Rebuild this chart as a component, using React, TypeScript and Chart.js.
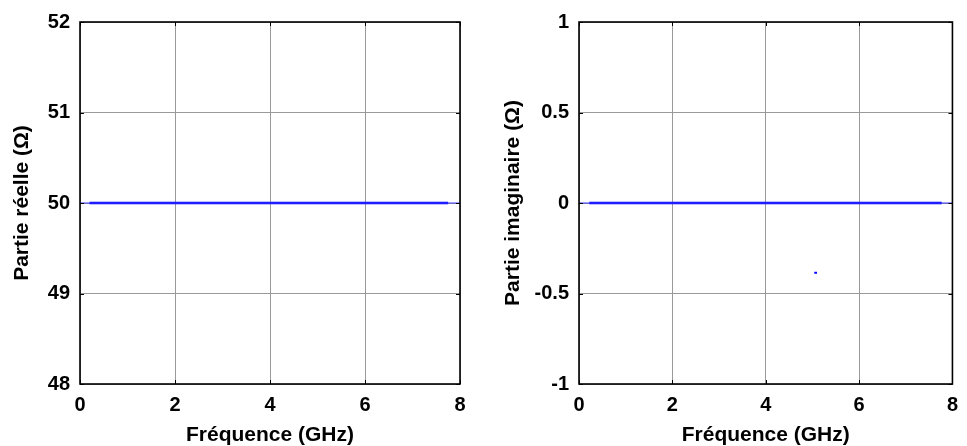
import React, { useEffect, useRef } from 'react';
import { Chart, registerables } from 'chart.js';

Chart.register(...registerables);

// ---- data ----
const xTickValues = [0, 2, 4, 6, 8];
const realTickValues = [48, 49, 50, 51, 52];
const imagTickValues = [-1, -0.5, 0, 0.5, 1];

// thin trace spanning the whole band
const realThinFreq = [0, 8];
const realThinValues = [50, 50];
// dense (thick) part of the trace
const realThickFreq = [0.2, 7.75];
const realThickValues = [50, 50];

const imagThinFreq = [0, 8];
const imagThinValues = [0, 0];
const imagThickFreq = [0.22, 7.77];
const imagThickValues = [0, 0];
// isolated short segment
const imagDashFreq = [5.04, 5.1];
const imagDashValues = [-0.385, -0.385];

const FONT = '"Liberation Sans", Arial, Helvetica, sans-serif';

const toPts = (xs: number[], ys: number[]) => xs.map((x, i) => ({ x, y: ys[i] }));

const framePlugin = {
  id: 'matlabFrame',
  afterDatasetsDraw(chart: any) {
    const { ctx, chartArea } = chart;
    const { left, right, top, bottom } = chartArea;
    const xs = chart.scales.x;
    const ys = chart.scales.y;
    ctx.save();
    ctx.strokeStyle = '#000';
    ctx.lineWidth = 1;
    ctx.beginPath();
    for (const t of xs.ticks) {
      const px = Math.round(xs.getPixelForValue(t.value)) + 0.5;
      ctx.moveTo(px, bottom);
      ctx.lineTo(px, bottom - 4);
      ctx.moveTo(px, top);
      ctx.lineTo(px, top + 4);
    }
    for (const t of ys.ticks) {
      const py = Math.round(ys.getPixelForValue(t.value)) + 0.5;
      ctx.moveTo(left, py);
      ctx.lineTo(left + 4, py);
      ctx.moveTo(right, py);
      ctx.lineTo(right - 4, py);
    }
    ctx.stroke();
    ctx.lineWidth = 1.6;
    ctx.strokeRect(left, top, right - left, bottom - top);
    ctx.restore();
  },
};

function makeConfig(opts: {
  datasets: any[];
  yMin: number;
  yMax: number;
  yTicks: number[];
  yTitle: string;
  yWidth: number;
  rightPad: number;
  titlePad: number;
}) {
  return {
    type: 'line' as const,
    data: { datasets: opts.datasets },
    plugins: [framePlugin],
    options: {
      animation: false,
      responsive: false,
      maintainAspectRatio: false,
      parsing: false,
      layout: { padding: { left: 0, top: 20, right: opts.rightPad, bottom: 0 } },
      plugins: { legend: { display: false }, tooltip: { enabled: false } },
      elements: { point: { radius: 0 } },
      scales: {
        x: {
          type: 'linear',
          min: 0,
          max: 8,
          afterBuildTicks: (s: any) => {
            s.ticks = xTickValues.map((v) => ({ value: v }));
          },
          afterFit: (s: any) => {
            s.height = 62;
          },
          grid: { display: true, color: '#9a9a9a', lineWidth: 1, drawTicks: false },
          border: { display: false },
          ticks: {
            color: '#000',
            padding: 9,
            maxRotation: 0,
            font: { family: FONT, size: 20, weight: 'bold' },
            callback: (v: any) => String(v),
          },
          title: {
            display: true,
            text: 'Fréquence (GHz)',
            color: '#000',
            padding: { top: 0, bottom: 0 },
            font: { family: FONT, size: 21, weight: 'bold', lineHeight: 1 },
          },
        },
        y: {
          type: 'linear',
          min: opts.yMin,
          max: opts.yMax,
          afterBuildTicks: (s: any) => {
            s.ticks = opts.yTicks.map((v) => ({ value: v }));
          },
          afterFit: (s: any) => {
            s.width = opts.yWidth;
          },
          grid: { display: true, color: '#9a9a9a', lineWidth: 1, drawTicks: false },
          border: { display: false },
          ticks: {
            color: '#000',
            padding: 10,
            font: { family: FONT, size: 20, weight: 'bold' },
            callback: (v: any) => String(v),
          },
          title: {
            display: true,
            text: opts.yTitle,
            color: '#000',
            padding: { top: opts.titlePad, bottom: 0 },
            font: { family: FONT, size: 21, weight: 'bold', lineHeight: 1 },
          },
        },
      },
    },
  };
}

function ChartCanvas({ config, width, height, left }: { config: any; width: number; height: number; left: number }) {
  const ref = useRef<HTMLCanvasElement | null>(null);
  useEffect(() => {
    if (!ref.current) return;
    const chart = new Chart(ref.current, config);
    return () => chart.destroy();
  }, [config]);
  return (
    <canvas
      ref={ref}
      width={width}
      height={height}
      style={{ position: 'absolute', left, top: 0, width, height, display: 'block' }}
    />
  );
}

const thick = (data: any[]) => ({
  data,
  borderColor: '#0000ff',
  borderWidth: 2.6,
  pointRadius: 0,
  fill: false,
  tension: 0,
});
const thin = (data: any[]) => ({
  data,
  borderColor: '#3a3aff',
  borderWidth: 1,
  pointRadius: 0,
  fill: false,
  tension: 0,
});

const leftConfig = makeConfig({
  datasets: [
    thin(toPts(realThinFreq, realThinValues)),
    thick(toPts(realThickFreq, realThickValues)),
  ],
  yMin: 48,
  yMax: 52,
  yTicks: realTickValues,
  yTitle: 'Partie réelle (Ω)',
  yWidth: 80,
  rightPad: 23,
  titlePad: 12,
});

const rightConfig = makeConfig({
  datasets: [
    thin(toPts(imagThinFreq, imagThinValues)),
    thick(toPts(imagThickFreq, imagThickValues)),
    { ...thick(toPts(imagDashFreq, imagDashValues)), borderWidth: 2 },
  ],
  yMin: -1,
  yMax: 1,
  yTicks: imagTickValues,
  yTitle: 'Partie imaginaire (Ω)',
  yWidth: 96,
  rightPad: 8,
  titlePad: 20,
});

export default function App() {
  return (
    <div style={{ position: 'fixed', left: 0, top: 0, width: 967, height: 446, background: '#fff' }}>
      <ChartCanvas config={leftConfig} width={483} height={446} left={0} />
      <ChartCanvas config={rightConfig} width={484} height={446} left={483} />
    </div>
  );
}
